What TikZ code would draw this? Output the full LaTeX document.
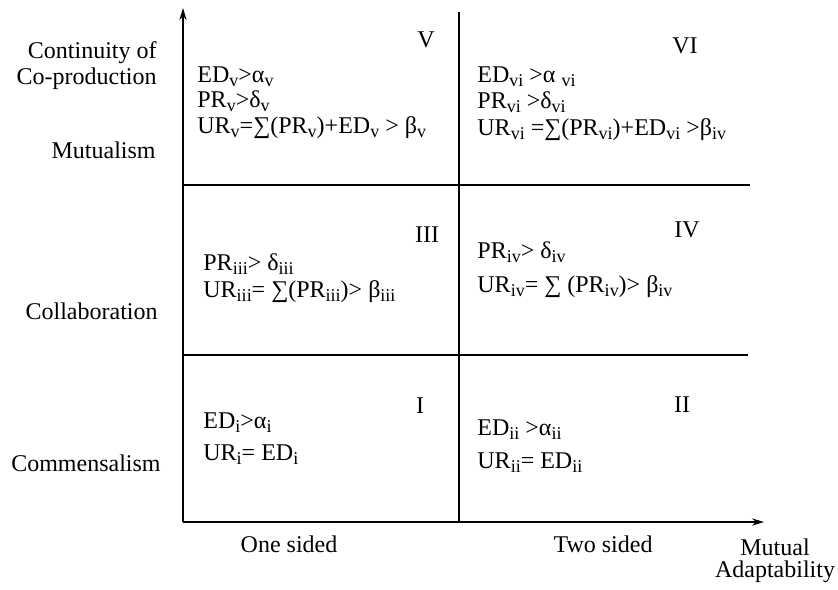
\documentclass[tikz,border=0pt]{standalone}
\usepackage{fontspec}
\setmainfont{Liberation Serif}
\usetikzlibrary{arrows.meta}

\newcommand{\lo}[1]{\raisebox{-0.45ex}{\fontsize{9}{9}\selectfont #1}}

\begin{document}
\begin{tikzpicture}[x=0.5pt,y=-0.5pt,
    every node/.style = {font=\fontsize{12}{13}\selectfont, inner sep=0pt},
    axis/.style    = {line width=0.7pt, -{Stealth[length=6pt,width=3.6pt]}},
    divider/.style = {line width=1pt},
    side/.style    = {anchor=base east, align=right},
    cell/.style    = {anchor=base west},
    numeral/.style = {anchor=base},
  ]
  \useasboundingbox (0,0) rectangle (838,589);

  \coordinate (origin) at (183,522);
  \coordinate (ytop)   at (183,8);
  \coordinate (xend)   at (764,522);
  \coordinate (mtop)   at (459,12);
  \coordinate (mbot)   at (459,522);
  \coordinate (hiA)    at (183,185);
  \coordinate (hiB)    at (750,185);
  \coordinate (loA)    at (183,355);
  \coordinate (loB)    at (748,355);

  \draw[axis] (origin) -- (ytop);
  \draw[axis] (origin) -- (xend);
  \draw[divider] (mtop) -- (mbot);
  \draw[divider] (hiA) -- (hiB);
  \draw[divider] (loA) -- (loB);

  \node[side] (cont)    at (157,58)  {Continuity of};
  \node[side] (coprod)  at (157,84)  {Co-production};
  \node[side] (mutual)  at (156,158) {Mutualism};
  \node[side] (collab)  at (158,319) {Collaboration};
  \node[side] (commens) at (161,471) {Commensalism};

  \node[numeral] (onesided) at (289,552) {One sided};
  \node[numeral] (twosided) at (603,552) {Two sided};
  \node[numeral] (mutadapt) at (775,555) {Mutual};
  \node[numeral] (adapt)    at (775,577) {Adaptability};

  \node[numeral] (numV)   at (426,47)  {V};
  \node[numeral] (numVI)  at (685,53)  {VI};
  \node[numeral] (numIII) at (427,242) {III};
  \node[numeral] (numIV)  at (687,237) {IV};
  \node[numeral] (numI)   at (420,413) {I};
  \node[numeral] (numII)  at (682,412) {II};

  \node[cell] (edV)  at (197,82)  {ED\lo{v}>α\lo{v}};
  \node[cell] (prV)  at (197,107) {PR\lo{v}>δ\lo{v}};
  \node[cell] (urV)  at (197,133) {UR\lo{v}=∑(PR\lo{v})+ED\lo{v} > β\lo{v}};

  \node[cell] (edVI) at (477,82)  {ED\lo{vi} >α \lo{vi}};
  \node[cell] (prVI) at (477,108) {PR\lo{vi} >δ\lo{vi}};
  \node[cell] (urVI) at (477,135) {UR\lo{vi} =∑(PR\lo{vi})+ED\lo{vi} >β\lo{iv}};

  \node[cell] (prIII) at (203,270) {PR\lo{iii}> δ\lo{iii}};
  \node[cell] (urIII) at (203,297) {UR\lo{iii}= ∑(PR\lo{iii})> β\lo{iii}};

  \node[cell] (prIV) at (477,258) {PR\lo{iv}> δ\lo{iv}};
  \node[cell] (urIV) at (477,292) {UR\lo{iv}= ∑ (PR\lo{iv})> β\lo{iv}};

  \node[cell] (edI) at (203,428) {ED\lo{i}>α\lo{i}};
  \node[cell] (urI) at (203,460) {UR\lo{i}= ED\lo{i}};

  \node[cell] (edII) at (477,435) {ED\lo{ii} >α\lo{ii}};
  \node[cell] (urII) at (477,468) {UR\lo{ii}= ED\lo{ii}};
\end{tikzpicture}
\end{document}
